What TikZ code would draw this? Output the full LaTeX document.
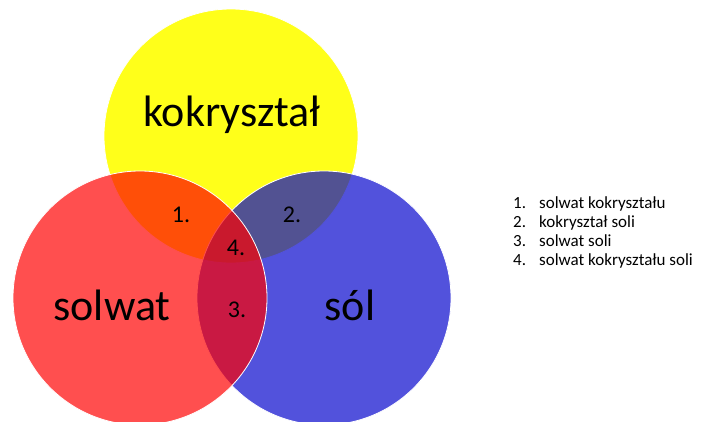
\documentclass[tikz,border=0pt]{standalone}
\usepackage{fontspec}
\setmainfont{Carlito}
\definecolor{setyellow}{RGB}{255,255,26}
\definecolor{setred}{RGB}{255,0,0}
\definecolor{setblue}{RGB}{0,0,204}
\begin{document}
\begin{tikzpicture}[x=1pt,y=-1pt,
  setcircle/.style={circle,draw=white,line width=0.8pt,minimum size=254pt,inner sep=0pt},
  setname/.style={font=\fontsize{44}{50}\selectfont,anchor=base,inner sep=0pt},
  zonenum/.style={font=\fontsize{24}{28}\selectfont,anchor=base,inner sep=0pt},
  legnum/.style={font=\fontsize{17}{20}\selectfont,anchor=base west,inner sep=0pt},
]
\useasboundingbox (0,0) rectangle (702,421);
% the three sets
\node[setcircle,fill=setyellow] (cocrystal) at (231,136) {};
\node[setcircle,fill=setblue,fill opacity=0.68] (salt) at (324,298) {};
\node[setcircle,fill=setred,fill opacity=0.69] (solvate) at (140,298) {};
% set names
\node[setname] (tcocrystal) at (232,126) {kokryształ};
\node[setname] (tsolvate) at (112,320) {solwat};
\node[setname] (tsalt) at (350,320) {sól};
% numbered overlap zones
\node[zonenum] (z1) at (181,222) {1.};
\node[zonenum] (z2) at (292,222) {2.};
\node[zonenum] (z4) at (236,255) {4.};
\node[zonenum] (z3) at (237,317) {3.};
% legend
\foreach \i/\t [count=\k] in {1/solwat kokryształu,2/kokryształ soli,3/solwat soli,4/solwat kokryształu soli}{
  \node[legnum] (ln\k) at (513,{189+19*\k}) {\i.};
  \node[legnum] (lt\k) at (539,{189+19*\k}) {\t};
}
\end{tikzpicture}
\end{document}
